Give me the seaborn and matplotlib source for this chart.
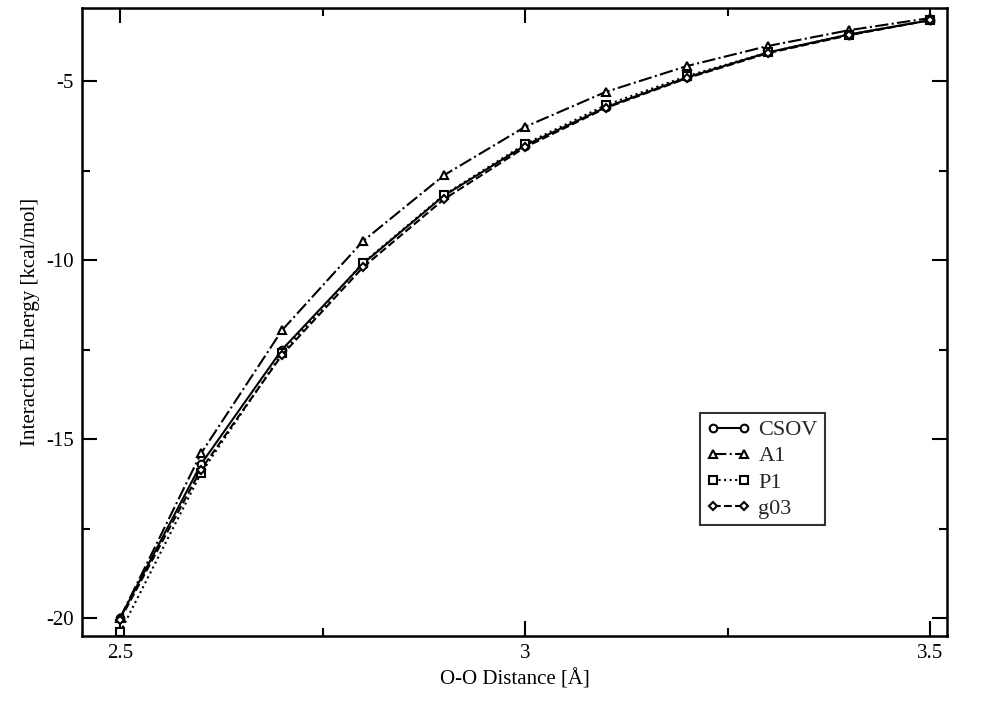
import seaborn as sns
from matplotlib import pyplot as plt
from matplotlib.ticker import MultipleLocator
import pandas as pd

distance = [2.5, 2.6, 2.7, 2.8, 2.9, 3.0, 3.1, 3.2, 3.3, 3.4, 3.5]
csov = [-20.0, -15.7, -12.5, -10.1, -8.2, -6.8, -5.73, -4.9, -4.2, -3.7, -3.3]
a1 = [-20.0, -15.4, -11.96, -9.47, -7.63, -6.28, -5.3, -4.58, -4.02, -3.58, -3.24]
p1 = [-20.4, -15.95, -12.6, -10.08, -8.18, -6.76, -5.67, -4.86, -4.2, -3.7, -3.3]
g03 = [-20.05, -15.85, -12.65, -10.2, -8.3, -6.85, -5.75, -4.92, -4.22, -3.72, -3.3]

series = {'CSOV': csov, 'A1': a1, 'P1': p1, 'g03': g03}
styles = {
    'CSOV': dict(marker='o', linestyle='-'),
    'A1': dict(marker='^', linestyle='-.'),
    'P1': dict(marker='s', linestyle=':'),
    'g03': dict(marker='D', linestyle='--'),
}

sns.set_theme(style="ticks")
plt.rcParams['font.family'] = ['Liberation Serif', 'DejaVu Serif']

fig = plt.figure(figsize=(9.84, 7.04), dpi=100)
ax = fig.add_axes([0.0833, 0.0966, 0.8791, 0.892])

for name, vals in series.items():
    df = pd.DataFrame({'distance': distance, 'energy': vals})
    st = styles[name]
    ms = 4.5 if st['marker'] == 'D' else 5.5
    sns.lineplot(x='distance', y='energy', data=df, ax=ax, color='black',
                 marker=st['marker'], linestyle=st['linestyle'], linewidth=1.5,
                 markersize=ms, markerfacecolor='white', markeredgecolor='black',
                 markeredgewidth=1.5, label=name)

ax.set_xlim(2.453, 3.521)
ax.set_ylim(-20.5, -2.96)
ax.xaxis.set_major_locator(MultipleLocator(0.5))
ax.xaxis.set_minor_locator(MultipleLocator(0.25))
ax.yaxis.set_major_locator(MultipleLocator(5))
ax.yaxis.set_minor_locator(MultipleLocator(2.5))
ax.xaxis.set_major_formatter(plt.FuncFormatter(lambda v, p: f'{v:g}'))
ax.yaxis.set_major_formatter(plt.FuncFormatter(lambda v, p: f'{v:g}'))

ax.tick_params(which='both', direction='in', top=True, right=True, colors='black',
               labelsize=15, width=1.5)
ax.tick_params(which='major', length=11, pad=6)
ax.tick_params(which='minor', length=6)
for sp in ax.spines.values():
    sp.set_linewidth(1.8)
    sp.set_color('black')

ax.set_xlabel('O-O Distance [Å]', fontsize=15, color='black')
ax.set_ylabel('Interaction Energy [kcal/mol]', fontsize=15, color='black')

leg = ax.legend(loc='upper left', bbox_to_anchor=(0.714, 0.355), borderaxespad=0,
                numpoints=2, handlelength=2.0, fontsize=16, frameon=True,
                fancybox=False, borderpad=0.3, labelspacing=0.25,
                handletextpad=0.35)
leg.get_frame().set_edgecolor('black')
leg.get_frame().set_linewidth(1.5)

fig.savefig('out.png', dpi=100)
